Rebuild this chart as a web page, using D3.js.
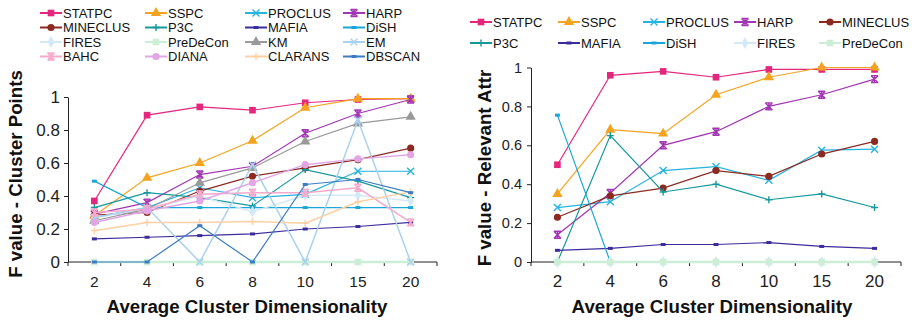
<!DOCTYPE html>
<html>
<head>
<meta charset="utf-8">
<script src="https://cdn.jsdelivr.net/npm/d3@7"></script>
<style>
  body { margin: 0; background: #fff; }
  svg { font-family: 'Liberation Sans', Arial, Helvetica, sans-serif; }
</style>
</head>
<body>
<svg id="chart"></svg>
<script>
// x categories, shared by both panels
const dims = ['2', '4', '6', '8', '10', '15', '20'];
const yTicks = [0, 0.2, 0.4, 0.6, 0.8, 1];

// left panel: F value - Cluster Points
const ptsSTATPC = [0.37, 0.89, 0.94, 0.92, 0.965, 0.985, 0.99];
const ptsSSPC = [0.28, 0.51, 0.6, 0.735, 0.935, 0.99, 0.99];
const ptsPROCLUS = [0.27, 0.33, 0.45, 0.39, 0.41, 0.55, 0.55];
const ptsHARP = [0.29, 0.36, 0.53, 0.58, 0.78, 0.9, 0.985];
const ptsMINECLUS = [0.285, 0.3, 0.43, 0.52, 0.57, 0.62, 0.69];
const ptsP3C = [0.33, 0.42, 0.39, 0.34, 0.56, 0.49, 0.39];
const ptsMAFIA = [0.14, 0.15, 0.16, 0.17, 0.2, 0.215, 0.24];
const ptsDiSH = [0.49, 0.33, 0.33, 0.33, 0.33, 0.33, 0.33];
const ptsFIRES = [0.27, 0.32, 0.4, 0.305, 0.405, 0.405, 0.37];
const ptsPreDeCon = [0, 0, 0, 0, 0, 0, 0];
const ptsKM = [0.25, 0.32, 0.48, 0.57, 0.73, 0.84, 0.88];
const ptsEM = [0.27, 0.33, 0, 0.59, 0, 0.86, 0];
const ptsBAHC = [0.3, 0.32, 0.41, 0.42, 0.42, 0.45, 0.24];
const ptsDIANA = [0.24, 0.31, 0.37, 0.48, 0.59, 0.625, 0.65];
const ptsCLARANS = [0.19, 0.24, 0.24, 0.245, 0.235, 0.365, 0.425];
const ptsDBSCAN = [0, 0, 0.22, 0, 0.47, 0.5, 0.42];

// right panel: F value - Relevant Attr
const attrSTATPC = [0.5, 0.96, 0.98, 0.95, 0.99, 0.99, 0.99];
const attrSSPC = [0.35, 0.68, 0.66, 0.86, 0.95, 1.0, 1.0];
const attrPROCLUS = [0.28, 0.31, 0.47, 0.49, 0.42, 0.575, 0.58];
const attrHARP = [0.14, 0.355, 0.6, 0.67, 0.8, 0.86, 0.94];
const attrMINECLUS = [0.23, 0.34, 0.38, 0.47, 0.44, 0.555, 0.62];
const attrP3C = [0, 0.65, 0.36, 0.4, 0.32, 0.35, 0.28];
const attrMAFIA = [0.06, 0.07, 0.09, 0.09, 0.1, 0.08, 0.07];
const attrDiSH = [0.755, 0, 0, 0, 0, 0, 0];
const attrFIRES = [0, 0, 0, 0, 0, 0, 0];
const attrPreDeCon = [0, 0, 0, 0, 0, 0, 0];

const leftSeries = [
  ['STATPC', ptsSTATPC], ['SSPC', ptsSSPC], ['PROCLUS', ptsPROCLUS], ['HARP', ptsHARP],
  ['MINECLUS', ptsMINECLUS], ['P3C', ptsP3C], ['MAFIA', ptsMAFIA], ['DiSH', ptsDiSH],
  ['FIRES', ptsFIRES], ['PreDeCon', ptsPreDeCon], ['KM', ptsKM], ['EM', ptsEM],
  ['BAHC', ptsBAHC], ['DIANA', ptsDIANA], ['CLARANS', ptsCLARANS], ['DBSCAN', ptsDBSCAN],
];
const rightSeries = [
  ['STATPC', attrSTATPC], ['SSPC', attrSSPC], ['PROCLUS', attrPROCLUS], ['HARP', attrHARP],
  ['MINECLUS', attrMINECLUS], ['P3C', attrP3C], ['MAFIA', attrMAFIA], ['DiSH', attrDiSH],
  ['FIRES', attrFIRES], ['PreDeCon', attrPreDeCon],
];

// look of each algorithm: [colour, marker]
const look = {
  STATPC: ['#e5267f', 'square'],
  SSPC: ['#f5a31e', 'triangle'],
  PROCLUS: ['#25b3e0', 'cross'],
  HARP: ['#a235b4', 'star'],
  MINECLUS: ['#8c2a22', 'circle'],
  P3C: ['#16999b', 'plus'],
  MAFIA: ['#3b2d9c', 'dash'],
  DiSH: ['#1ba6da', 'dash'],
  FIRES: ['#d4e9f8', 'diamond'],
  PreDeCon: ['#cdeed6', 'square'],
  KM: ['#999999', 'triangle'],
  EM: ['#a9d2ee', 'cross'],
  BAHC: ['#f5a9cb', 'star'],
  DIANA: ['#e2a6e6', 'circle'],
  CLARANS: ['#fdd0a6', 'plus'],
  DBSCAN: ['#3b7cc4', 'dash'],
};

let width = 915;
let height = 324;
let svg = d3.select('#chart').attr('width', width).attr('height', height);

let drawMarker = (g, shape, color, x, y) => {
  let sym = { square: d3.symbolSquare, triangle: d3.symbolTriangle, circle: d3.symbolCircle, diamond: d3.symbolDiamond };
  let sizes = { square: 44, triangle: 46, circle: 40, diamond: 40 };
  if (sym[shape]) {
    g.append('path')
      .attr('d', d3.symbol(sym[shape], sizes[shape])())
      .attr('transform', `translate(${x},${y})`)
      .attr('fill', color);
  } else if (shape === 'dash') {
    g.append('rect').attr('x', x - 2.5).attr('y', y - 1.5).attr('width', 5).attr('height', 3).attr('fill', color);
  } else {
    let r = 3.5;
    let d = '';
    if (shape === 'cross') d = `M${x - r},${y - r}L${x + r},${y + r}M${x - r},${y + r}L${x + r},${y - r}`;
    if (shape === 'plus') d = `M${x - r},${y}L${x + r},${y}M${x},${y - r}L${x},${y + r}`;
    if (shape === 'star')
      d = `M${x - r},${y - r}L${x + r},${y + r}M${x - r},${y + r}L${x + r},${y - r}` +
        `M${x - r},${y - r}L${x + r},${y - r}M${x - r},${y + r}L${x + r},${y + r}M${x},${y - r}L${x},${y + r}`;
    g.append('path').attr('d', d).attr('stroke', color).attr('stroke-width', 1.4).attr('fill', 'none');
  }
};

let drawPanel = (cfg) => {
  let xScale = d3.scaleBand().domain(dims).range([cfg.x0, cfg.x1]);
  let yScale = d3.scaleLinear().domain([0, 1]).range([cfg.y0, cfg.y1]);
  let cx = (d) => xScale(d) + xScale.bandwidth() / 2;

  let g = svg.append('g');

  // y axis
  let yAxis = d3.axisLeft(yScale).tickValues(yTicks).tickSize(4).tickSizeOuter(0).tickPadding(cfg.yPad)
    .tickFormat((d) => String(d));
  let ya = g.append('g').attr('transform', `translate(${cfg.x0},0)`).call(yAxis);
  ya.selectAll('text').attr('font-size', cfg.yFont).attr('fill', '#222').attr('font-family', null);
  ya.selectAll('line, path').attr('stroke', '#222');

  // x axis: ticks sit on band edges
  let xa = g.append('g');
  xa.append('line').attr('x1', cfg.x0).attr('x2', cfg.x1).attr('y1', cfg.y0).attr('y2', cfg.y0).attr('stroke', '#222');
  xa.selectAll('line.tk')
    .data(d3.range(dims.length + 1))
    .enter()
    .append('line')
    .attr('class', 'tk')
    .attr('x1', (i) => cfg.x0 + i * xScale.step())
    .attr('x2', (i) => cfg.x0 + i * xScale.step())
    .attr('y1', cfg.y0)
    .attr('y2', cfg.y0 + 4)
    .attr('stroke', '#222');
  xa.selectAll('text')
    .data(dims)
    .enter()
    .append('text')
    .attr('x', cx)
    .attr('y', cfg.y0 + 25)
    .attr('text-anchor', 'middle')
    .attr('font-size', cfg.xFont)
    .attr('fill', '#222')
    .text((d) => d);

  // titles
  g.append('text')
    .attr('x', (cfg.x0 + cfg.x1) / 2 - cfg.titleShift)
    .attr('y', cfg.y0 + 51)
    .attr('text-anchor', 'middle')
    .attr('font-size', 18.7)
    .attr('font-weight', 'bold')
    .attr('fill', '#111')
    .text('Average Cluster Dimensionality');
  g.append('text')
    .attr('transform', `translate(${cfg.titleX},${cfg.titleY}) rotate(-90)`)
    .attr('text-anchor', 'middle')
    .attr('font-size', 18.7)
    .attr('font-weight', 'bold')
    .attr('fill', '#111')
    .text(cfg.yTitle);

  // series
  let line = d3.line().x((d, i) => cx(dims[i])).y((d) => yScale(d));
  cfg.series.forEach(([name, vals]) => {
    let [color, shape] = look[name];
    let light = ['FIRES', 'PreDeCon', 'EM', 'BAHC', 'DIANA', 'CLARANS'].includes(name);
    g.append('path')
      .attr('d', line(vals))
      .attr('fill', 'none')
      .attr('stroke', color)
      .attr('stroke-width', name === 'PreDeCon' ? 2.4 : light ? 1.5 : 1.2);
    vals.forEach((v, i) => drawMarker(g, shape, color, cx(dims[i]), yScale(v)));
  });

  // legend
  cfg.series.forEach(([name], i) => {
    let [color, shape] = look[name];
    let col = i % cfg.legCols.length;
    let row = Math.floor(i / cfg.legCols.length);
    let lx = cfg.legCols[col];
    let ly = cfg.legRows[row];
    let lg = svg.append('g');
    lg.append('line').attr('x1', lx).attr('x2', lx + 22).attr('y1', ly).attr('y2', ly)
      .attr('stroke', color).attr('stroke-width', 2);
    drawMarker(lg, shape, color, lx + 11, ly);
    lg.append('text')
      .attr('x', lx + 23)
      .attr('y', ly + 4.6)
      .attr('font-size', 13)
      .attr('fill', '#111')
      .text(name);
  });
};

drawPanel({
  x0: 68, x1: 437, y0: 262, y1: 97,
  yFont: 17, xFont: 15.5, yPad: 4, titleShift: 5.5,
  titleX: 22, titleY: 174, yTitle: 'F value - Cluster Points',
  series: leftSeries,
  legCols: [40, 145, 245, 343], legRows: [13, 27.5, 42, 56.5],
});

drawPanel({
  x0: 531, x1: 901, y0: 262, y1: 67.5,
  yFont: 14.5, xFont: 17, yPad: 5, titleShift: 4,
  titleX: 491, titleY: 168, yTitle: 'F value - Relevant Attr',
  series: rightSeries,
  legCols: [470, 558, 643, 734, 819], legRows: [22, 43],
});
</script>
</body>
</html>
